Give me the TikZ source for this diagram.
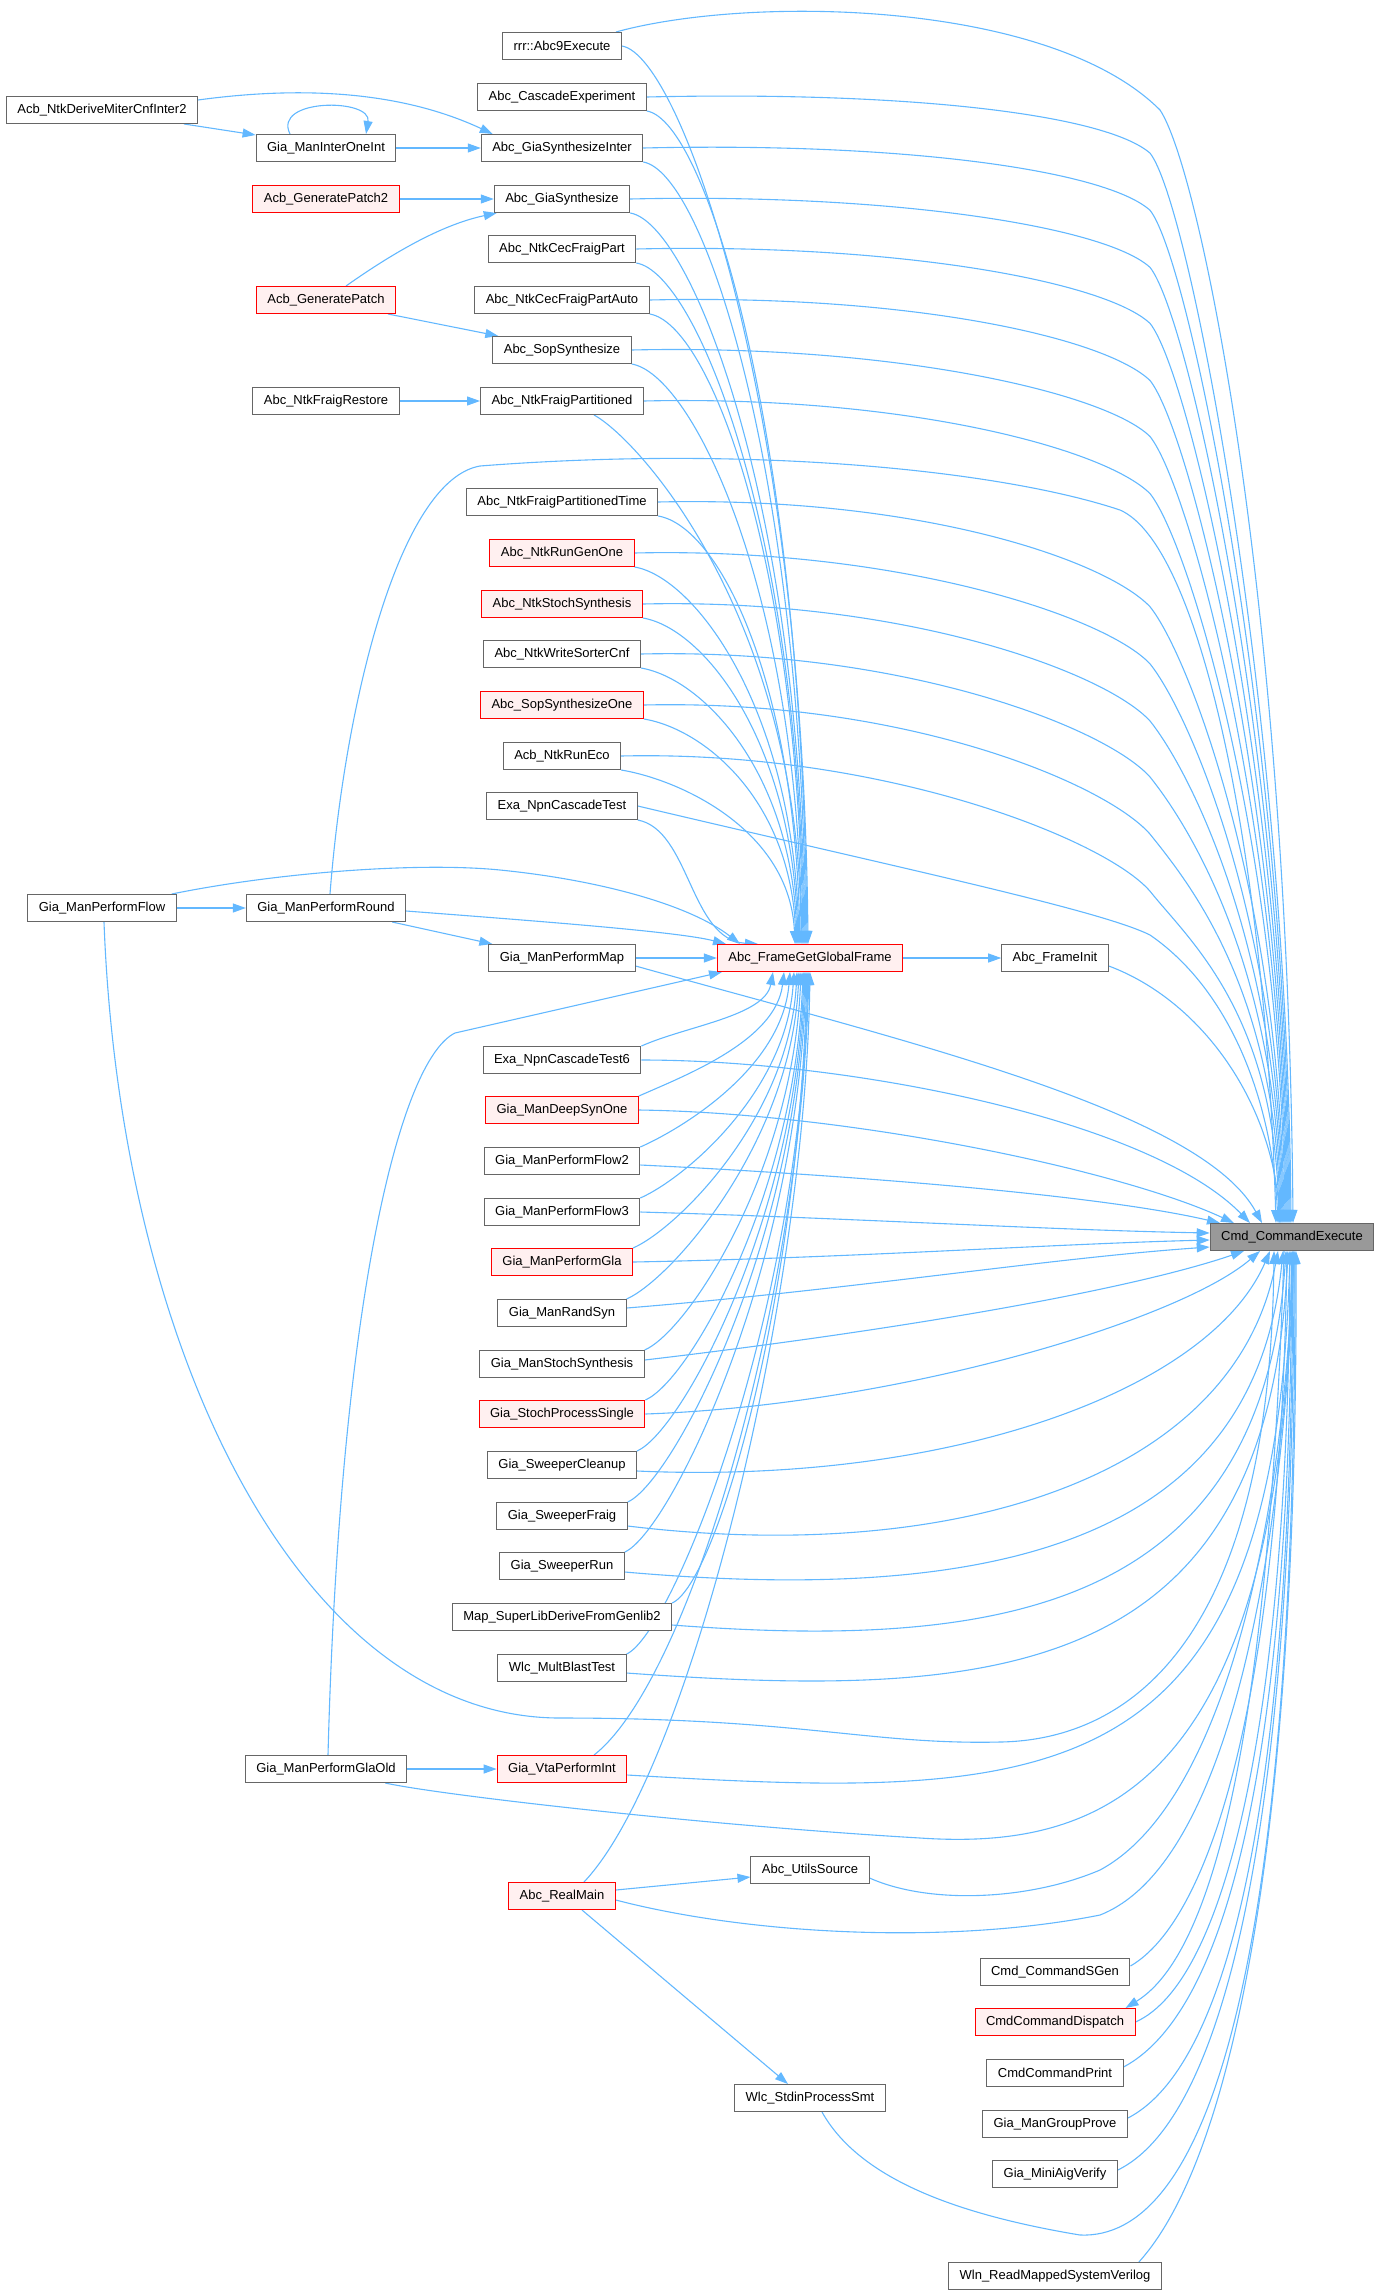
\documentclass[tikz,border=0pt]{standalone}
\usepackage{fontspec}
\setmainfont{Liberation Sans}
\usetikzlibrary{arrows.meta,calc,backgrounds}
\definecolor{cgline}{HTML}{63B8FF}
\definecolor{cgframe}{HTML}{666666}
\definecolor{cgred}{HTML}{FF0000}
\definecolor{cgpink}{HTML}{FFF0F0}
\definecolor{cgroot}{HTML}{999999}
\tikzset{
  fn/.style={draw=cgframe,fill=white,line width=1pt,inner xsep=11pt,inner ysep=0pt,minimum height=27pt,font=\fontsize{13}{15}\selectfont},
  fnred/.style={fn,draw=cgred,fill=cgpink},
  fnroot/.style={fn,fill=cgroot},
  ar/.style={-{Triangle[length=13pt,width=9pt]},draw=cgline,line width=1.1pt},
}

\begin{document}
\begin{tikzpicture}[x=1pt,y=-1pt]
  \useasboundingbox (0,0) rectangle (1380,2294);

  % middle column
  \node[fn] (rrr) at (562,46) {rrr::Abc9Execute};
  \node[fn] (casc) at (562,97) {Abc\_CascadeExperiment};
  \node[fn] (gsi) at (562,148) {Abc\_GiaSynthesizeInter};
  \node[fn] (gs) at (562,199) {Abc\_GiaSynthesize};
  \node[fn] (cfp) at (562,249) {Abc\_NtkCecFraigPart};
  \node[fn] (cfpa) at (562,300) {Abc\_NtkCecFraigPartAuto};
  \node[fn] (sop) at (562,350) {Abc\_SopSynthesize};
  \node[fn] (nfp) at (562,401) {Abc\_NtkFraigPartitioned};
  \node[fn] (nfpt) at (562,502) {Abc\_NtkFraigPartitionedTime};
  \node[fnred] (rgo) at (562,553) {Abc\_NtkRunGenOne};
  \node[fnred] (nss) at (562,604) {Abc\_NtkStochSynthesis};
  \node[fn] (wsc) at (562,654) {Abc\_NtkWriteSorterCnf};
  \node[fnred] (sopone) at (562,705) {Abc\_SopSynthesizeOne};
  \node[fn] (eco) at (562,756) {Acb\_NtkRunEco};
  \node[fn] (exa) at (562,806) {Exa\_NpnCascadeTest};
  \node[fn] (map) at (562,958) {Gia\_ManPerformMap};
  \node[fn] (exa6) at (562,1060) {Exa\_NpnCascadeTest6};
  \node[fnred] (deep) at (562,1110) {Gia\_ManDeepSynOne};
  \node[fn] (flowb) at (562,1161) {Gia\_ManPerformFlow2};
  \node[fn] (flowc) at (562,1212) {Gia\_ManPerformFlow3};
  \node[fnred] (gla) at (562,1262) {Gia\_ManPerformGla};
  \node[fn] (rand) at (562,1313) {Gia\_ManRandSyn};
  \node[fn] (gss) at (562,1364) {Gia\_ManStochSynthesis};
  \node[fnred] (sps) at (562,1414) {Gia\_StochProcessSingle};
  \node[fn] (swc) at (562,1465) {Gia\_SweeperCleanup};
  \node[fn] (swf) at (562,1516) {Gia\_SweeperFraig};
  \node[fn] (swr) at (562,1566) {Gia\_SweeperRun};
  \node[fn] (msl) at (562,1617) {Map\_SuperLibDeriveFromGenlib2};
  \node[fn] (wmb) at (562,1668) {Wlc\_MultBlastTest};
  \node[fnred] (vta) at (562,1769) {Gia\_VtaPerformInt};
  \node[fnred] (rmain) at (562,1896) {Abc\_RealMain};

  % left columns
  \node[fn] (miter) at (102,110) {Acb\_NtkDeriveMiterCnfInter2};
  \node[fn] (ioi) at (326,148) {Gia\_ManInterOneInt};
  \node[fnred] (gp2) at (326,199) {Acb\_GeneratePatch2};
  \node[fnred] (gp) at (326,300) {Acb\_GeneratePatch};
  \node[fn] (restore) at (326,401) {Abc\_NtkFraigRestore};
  \node[fn] (flow) at (102,908) {Gia\_ManPerformFlow};
  \node[fn] (round) at (326,908) {Gia\_ManPerformRound};
  \node[fn] (glaold) at (326,1769) {Gia\_ManPerformGlaOld};

  % right columns
  \node[fnred] (fggf) at (810,958) {Abc\_FrameGetGlobalFrame};
  \node[fn] (utils) at (810,1870) {Abc\_UtilsSource};
  \node[fn] (stdin) at (810,2098) {Wlc\_StdinProcessSmt};
  \node[fn] (finit) at (1055,958) {Abc\_FrameInit};
  \node[fn] (sgen) at (1055,1972) {Cmd\_CommandSGen};
  \node[fnred] (dispatch) at (1055,2022) {CmdCommandDispatch};
  \node[fn] (cprint) at (1055,2073) {CmdCommandPrint};
  \node[fn] (gprove) at (1055,2124) {Gia\_ManGroupProve};
  \node[fn] (mini) at (1055,2174) {Gia\_MiniAigVerify};
  \node[fn] (wln) at (1055,2276) {Wln\_ReadMappedSystemVerilog};
  \node[fnroot] (cmd) at (1292,1237) {Cmd\_CommandExecute};

  \begin{scope}[on background layer]
  % short links on the left
  \draw[ar] ([xshift=-14pt]miter.south east) -- ([yshift=-1pt]ioi.north west);
  \draw[ar] ([yshift=-4pt]miter.north east) .. controls (330,82) and (420,100) .. ([xshift=12pt]gsi.north west);
  \draw[ar] ([xshift=-36pt]ioi.north) .. controls (272,98) and (372,98) .. ([xshift=40pt]ioi.north);
  \draw[ar] (ioi) -- (gsi);
  \draw[ar] (gp2) -- (gs);
  \draw[ar] ([xshift=20pt]gp.north) .. controls (390,255) and (440,225) .. ([xshift=3pt]gs.south west);
  \draw[ar] ([xshift=-8pt]gp.south east) -- ([xshift=6pt]sop.north west);
  \draw[ar] (restore) -- (nfp);
  \draw[ar] (flow) -- (round);
  \draw[ar] ([xshift=-14pt]round.south east) -- ([xshift=4pt]map.north west);
  \draw[ar] (glaold) -- (vta);
  \draw[ar] ([yshift=6pt]rmain.east) -- ([yshift=-7pt]utils.west);
  \draw[ar] ([xshift=20pt]rmain.south) -- ([xshift=-22pt]stdin.north);
  \draw[ar] (map) -- (fggf);
  \draw[ar] (fggf) -- (finit);

  % into Abc_FrameGetGlobalFrame from above
  \foreach \n/\a/\r/\dx in {rrr/east/46/-2, casc/south east/97/-3, gsi/south east/148/-4, gs/south east/199/-5, cfp/south east/249/-6, cfpa/south east/300/-7, sop/south east/350/-8, nfpt/south east/502/-10, rgo/south east/553/-11, nss/south east/604/-12, wsc/south east/654/-13, sopone/south east/705/-14, eco/south east/756/-15} {
    \pgfmathsetmacro{\q}{0.6*(945-\r)}
    \draw[ar] (\n.\a) .. controls ($(\n.\a)+(60,10)$) and ($(fggf.north)+(\dx-5,-\q)$) .. ($(fggf.north)+(\dx,0)$);
  }
  \draw[ar] ([xshift=32pt]nfp.south) .. controls (640,440) and (800,620) .. ([xshift=-9pt]fggf.north);
  \draw[ar] (exa.south east) .. controls (690,830) and (690,940) .. ([xshift=-52pt]fggf.north);
  \draw[ar] ([yshift=-3pt]round.east) .. controls (550,922) and (680,932) .. ([xshift=-84pt]fggf.north);
  \draw[ar] ([xshift=-5pt]flow.north east) .. controls (280,872) and (420,862) .. (500,870) .. controls (600,880) and (690,905) .. ([xshift=-70pt]fggf.north);

  % into Abc_FrameGetGlobalFrame from below
  \foreach \n/\r/\dx in {exa6/1060/-37, deep/1110/-26, flowb/1161/-20, flowc/1212/-16, gla/1262/-13, rand/1313/-11, gss/1364/-9, sps/1414/-7, swc/1465/-6, swf/1516/-5, swr/1566/-4, msl/1617/-3, wmb/1668/-2} {
    \pgfmathsetmacro{\q}{0.5*(\r-972)}
    \draw[ar] (\n.north east) .. controls ($(\n.north east)+(45,-20)$) and ($(fggf.south)+(\dx-8,\q)$) .. ($(fggf.south)+(\dx,0)$);
  }
  \draw[ar] ([xshift=32pt]vta.north) .. controls (690,1680) and (800,1300) .. ([xshift=-1pt]fggf.south);
  \draw[ar] ([xshift=22pt]rmain.north) .. controls (690,1770) and (805,1300) .. (fggf.south);
  \draw[ar] ([xshift=2pt]glaold.north) .. controls (340,1300) and (400,1060) .. (455,1033) -- ([xshift=-88pt]fggf.south);

  % into Cmd_CommandExecute from above
  \draw[ar] ([xshift=-6pt]rrr.north east) .. controls (750,-5) and (1050,0) .. (1160,110) .. controls (1200,170) and (1288,600) .. ($(cmd.north)+(1,0)$);
  \foreach \n/\r/\dx in {casc/97/-1, gsi/148/-2, gs/199/-3, cfp/249/-4, cfpa/300/-5, sop/350/-6, nfp/401/-7, nfpt/502/-8, rgo/553/-9, nss/604/-10, wsc/654/-11, sopone/705/-12, eco/756/-13} {
    \pgfmathsetmacro{\ay}{\r+12+0.1*(\r-46)}
    \pgfmathsetmacro{\by}{\r+50+0.12*(\r-46)}
    \pgfmathsetmacro{\cy}{\by+50}
    \pgfmathsetmacro{\q}{0.45*(1222-\r)}
    \draw[ar] (\n.east) .. controls ($(\n.east)+(260,-6)$) and (1105,\ay) .. (1150,\by) .. controls (1190,\cy) and ($(cmd.north)+(\dx-4,-\q)$) .. ($(cmd.north)+(\dx,0)$);
  }
  \draw[ar] ([xshift=4pt]round.north) .. controls (345,700) and (400,480) .. (480,466) .. controls (750,445) and (1000,470) .. (1120,510) .. controls (1200,545) and (1265,850) .. ($(cmd.north)+(-16,0)$);
  \draw[ar] (exa.east) .. controls (900,868) and (1100,910) .. (1150,935) .. controls (1230,990) and (1272,1100) .. ($(cmd.north)+(-14,0)$);
  \draw[ar] ([yshift=-8pt]finit.east) .. controls (1200,1000) and (1272,1100) .. ($(cmd.north)+(-12,0)$);
  \draw[ar] ([yshift=-8pt]map.east) .. controls (900,1040) and (1200,1110) .. ($(cmd.north)+(-30,0)$);
  \draw[ar] (exa6.east) .. controls (850,1060) and (1150,1120) .. ($(cmd.north)+(-42,0)$);
  \draw[ar] (deep.east) .. controls (850,1113) and (1120,1170) .. ($(cmd.north)+(-58,0)$);
  \draw[ar] ([yshift=-4pt]flowb.east) .. controls (850,1175) and (1100,1195) .. ($(cmd.north)+(-72,0)$);

  % into Cmd_CommandExecute from the left and below
  \draw[ar] (flowc.east) .. controls (850,1218) and (1050,1230) .. ([yshift=4pt]cmd.west);
  \draw[ar] (gla.east) .. controls (850,1258) and (1050,1244) .. ([yshift=-3pt]cmd.west);
  \draw[ar] ([yshift=5pt]rand.east) .. controls (850,1290) and (1050,1258) .. ([yshift=-10pt]cmd.west);
  \draw[ar] ([yshift=4pt]gss.east) .. controls (900,1330) and (1130,1290) .. ($(cmd.south)+(-48,0)$);
  \draw[ar] (sps.east) .. controls (900,1405) and (1180,1320) .. ($(cmd.south)+(-32,0)$);
  \draw[ar] ([yshift=-6pt]swc.east) .. controls (950,1485) and (1210,1390) .. ($(cmd.south)+(-22,0)$);
  \draw[ar] ([yshift=-10pt]swf.east) .. controls (950,1565) and (1235,1480) .. ($(cmd.south)+(-14,0)$);
  \draw[ar] ([yshift=-6pt]swr.east) .. controls (1000,1605) and (1255,1540) .. ($(cmd.south)+(-9,0)$);
  \draw[ar] ([yshift=-8pt]msl.east) .. controls (1000,1650) and (1262,1610) .. ($(cmd.south)+(-6,0)$);
  \draw[ar] ([yshift=-5pt]wmb.east) .. controls (1000,1700) and (1268,1680) .. ($(cmd.south)+(-4,0)$);
  \draw[ar] ([yshift=-6pt]vta.east) .. controls (1050,1800) and (1275,1800) .. ($(cmd.south)+(-2,0)$);
  \draw[ar] ([xshift=2pt]flow.south) .. controls (120,1350) and (300,1718) .. (560,1718) .. controls (800,1718) and (870,1745) .. (1000,1742) .. controls (1130,1740) and (1270,1640) .. ($(cmd.south)+(-18,0)$);
  \draw[ar] ([xshift=-22pt]glaold.south east) .. controls (440,1795) and (700,1825) .. (920,1838) .. controls (1100,1850) and (1282,1790) .. (cmd.south);
  \draw[ar] ([yshift=-8pt]utils.east) .. controls (930,1905) and (1030,1900) .. (1100,1870) .. controls (1230,1800) and (1285,1500) .. ($(cmd.south)+(1,0)$);
  \draw[ar] ([yshift=-4pt]rmain.east) .. controls (750,1935) and (950,1945) .. (1100,1915) .. controls (1240,1860) and (1286,1500) .. ($(cmd.south)+(2,0)$);
  \draw[ar] ([yshift=6pt]sgen.east) .. controls (1210,1920) and (1280,1700) .. ($(cmd.south)+(-5,0)$);
  \draw[ar] (dispatch.east) .. controls (1230,1980) and (1288,1700) .. ($(cmd.south)+(-2,0)$);
  \draw[ar] ($(cmd.south)+(-8,0)$) .. controls (1270,1700) and (1220,1950) .. ([xshift=-10pt]dispatch.north east);
  \draw[ar] ([yshift=6pt]cprint.east) .. controls (1230,2010) and (1290,1750) .. (cmd.south);
  \draw[ar] ([yshift=6pt]gprove.east) .. controls (1240,2060) and (1292,1750) .. ($(cmd.south)+(1,0)$);
  \draw[ar] ([yshift=4pt]mini.east) .. controls (1240,2110) and (1294,1750) .. ($(cmd.south)+(2,0)$);
  \draw[ar] ([xshift=12pt]stdin.south) .. controls (860,2180) and (960,2215) .. (1080,2235) .. controls (1200,2240) and (1296,2000) .. ($(cmd.south)+(3,0)$);
  \draw[ar] ([xshift=-23pt]wln.north east) .. controls (1240,2150) and (1298,1800) .. ($(cmd.south)+(4,0)$);
  \end{scope}
\end{tikzpicture}
\end{document}
